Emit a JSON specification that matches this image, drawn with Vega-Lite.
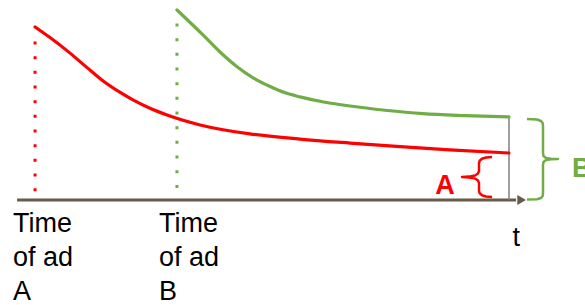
{
  "$schema": "https://vega.github.io/schema/vega-lite/v6.json",
  "width": 585,
  "height": 305,
  "autosize": {"type": "none"},
  "padding": 0,
  "background": "white",
  "config": {"view": {"stroke": null}},
  "datasets": {
    "curves": [
      {"ad": "A", "time": -0.2, "response": 90.6},
      {"ad": "A", "time": 3.6, "response": 83.9},
      {"ad": "A", "time": 7.2, "response": 76.9},
      {"ad": "A", "time": 10.8, "response": 69.3},
      {"ad": "A", "time": 14.2, "response": 62.3},
      {"ad": "A", "time": 17.8, "response": 56.3},
      {"ad": "A", "time": 20.5, "response": 52.4},
      {"ad": "A", "time": 24.1, "response": 48.0},
      {"ad": "A", "time": 27.7, "response": 44.5},
      {"ad": "A", "time": 34.7, "response": 39.3},
      {"ad": "A", "time": 45.2, "response": 34.6},
      {"ad": "A", "time": 55.8, "response": 31.9},
      {"ad": "A", "time": 66.4, "response": 29.8},
      {"ad": "A", "time": 77.0, "response": 27.9},
      {"ad": "A", "time": 87.5, "response": 26.2},
      {"ad": "A", "time": 100, "response": 24.6},
      {"ad": "B", "time": 29.8, "response": 99.5},
      {"ad": "B", "time": 35.3, "response": 86.4},
      {"ad": "B", "time": 38.9, "response": 77.5},
      {"ad": "B", "time": 42.5, "response": 69.8},
      {"ad": "B", "time": 45.9, "response": 64.0},
      {"ad": "B", "time": 49.5, "response": 59.4},
      {"ad": "B", "time": 52.7, "response": 56.1},
      {"ad": "B", "time": 55.8, "response": 54.0},
      {"ad": "B", "time": 61.1, "response": 51.2},
      {"ad": "B", "time": 66.4, "response": 49.2},
      {"ad": "B", "time": 73.8, "response": 47.0},
      {"ad": "B", "time": 81.8, "response": 45.2},
      {"ad": "B", "time": 90.7, "response": 44.2},
      {"ad": "B", "time": 100, "response": 43.5}
    ],
    "drops": [
      {"ad": "A", "time": -0.2, "top": 83.0, "bottom": 4.6},
      {"ad": "B", "time": 29.8, "top": 92.4, "bottom": 6.3}
    ],
    "braces": [
      {"brace": "A", "i": 1, "time": 96.41, "response": 22.51},
      {"brace": "A", "i": 2, "time": 95.14, "response": 22.25},
      {"brace": "A", "i": 3, "time": 94.29, "response": 21.57},
      {"brace": "A", "i": 4, "time": 93.8, "response": 20.52},
      {"brace": "A", "i": 5, "time": 93.66, "response": 19.37},
      {"brace": "A", "i": 6, "time": 93.66, "response": 15.18},
      {"brace": "A", "i": 7, "time": 93.45, "response": 13.87},
      {"brace": "A", "i": 8, "time": 92.81, "response": 12.83},
      {"brace": "A", "i": 9, "time": 91.54, "response": 12.25},
      {"brace": "A", "i": 10, "time": 90.06, "response": 12.04},
      {"brace": "A", "i": 11, "time": 91.54, "response": 11.83},
      {"brace": "A", "i": 12, "time": 92.81, "response": 11.26},
      {"brace": "A", "i": 13, "time": 93.45, "response": 10.21},
      {"brace": "A", "i": 14, "time": 93.66, "response": 8.9},
      {"brace": "A", "i": 15, "time": 93.66, "response": 4.71},
      {"brace": "A", "i": 16, "time": 93.8, "response": 3.56},
      {"brace": "A", "i": 17, "time": 94.29, "response": 2.51},
      {"brace": "A", "i": 18, "time": 95.14, "response": 1.83},
      {"brace": "A", "i": 19, "time": 96.41, "response": 1.57},
      {"brace": "B", "i": 1, "time": 103.81, "response": 42.41},
      {"brace": "B", "i": 2, "time": 105.92, "response": 42.15},
      {"brace": "B", "i": 3, "time": 106.77, "response": 41.36},
      {"brace": "B", "i": 4, "time": 107.12, "response": 40.31},
      {"brace": "B", "i": 5, "time": 107.19, "response": 38.74},
      {"brace": "B", "i": 6, "time": 107.19, "response": 24.61},
      {"brace": "B", "i": 7, "time": 107.29, "response": 23.04},
      {"brace": "B", "i": 8, "time": 107.82, "response": 21.99},
      {"brace": "B", "i": 9, "time": 108.88, "response": 21.57},
      {"brace": "B", "i": 10, "time": 110.36, "response": 21.47},
      {"brace": "B", "i": 11, "time": 108.88, "response": 21.36},
      {"brace": "B", "i": 12, "time": 107.82, "response": 20.94},
      {"brace": "B", "i": 13, "time": 107.29, "response": 19.9},
      {"brace": "B", "i": 14, "time": 107.19, "response": 18.32},
      {"brace": "B", "i": 15, "time": 107.19, "response": 3.66},
      {"brace": "B", "i": 16, "time": 107.12, "response": 2.09},
      {"brace": "B", "i": 17, "time": 106.77, "response": 1.05},
      {"brace": "B", "i": 18, "time": 105.92, "response": 0.37},
      {"brace": "B", "i": 19, "time": 103.81, "response": 0.26}
    ],
    "labels": [
      {"ad": "A", "time": -4.86, "response": -16.75, "label": ["Time", "of ad", "A"]},
      {"ad": "B", "time": 26.0, "response": -16.75, "label": ["Time", "of ad", "B"]},
      {"ad": "t", "time": 100.74, "response": -24.08, "label": ["t"]}
    ],
    "braceLabels": [
      {"ad": "A", "time": 84.4, "response": 3.3, "label": "A"},
      {"ad": "B", "time": 113.3, "response": 12.3, "label": "B"}
    ]
  },
  "encoding": {
    "x": {"field": "time", "type": "quantitative", "scale": {"domain": [-7.611, 116.07], "nice": false, "zero": false}, "axis": null},
    "y": {"field": "response", "type": "quantitative", "scale": {"domain": [-54.97, 104.71], "nice": false, "zero": false}, "axis": null}
  },
  "layer": [
    {
      "data": {"name": "drops"},
      "mark": {"type": "rule", "strokeWidth": 3, "strokeDash": [3, 11.67], "strokeCap": "butt"},
      "encoding": {
        "y": {"field": "top", "type": "quantitative"},
        "y2": {"field": "bottom"},
        "color": {"field": "ad", "type": "nominal", "scale": {"domain": ["A", "B"], "range": ["#ff0000", "#70ad47"]}, "legend": null}
      }
    },
    {
      "data": {"values": [{"start": -4.0, "end": 101.5, "response": 0}]},
      "mark": {"type": "rule", "strokeWidth": 3, "color": "#675a48", "strokeCap": "butt"},
      "encoding": {
        "x": {"field": "start", "type": "quantitative"},
        "x2": {"field": "end"}
      }
    },
    {
      "data": {"values": [{"time": 102.68, "response": 0}]},
      "mark": {"type": "point", "shape": "triangle-right", "filled": true, "size": 100, "color": "#675a48", "opacity": 1},
      "encoding": {}
    },
    {
      "data": {"values": [{"time": 100, "top": 43.5, "bottom": 0}]},
      "mark": {"type": "rule", "strokeWidth": 1.5, "color": "#7f7f7f"},
      "encoding": {
        "y": {"field": "top", "type": "quantitative"},
        "y2": {"field": "bottom"}
      }
    },
    {
      "data": {"name": "curves"},
      "mark": {"type": "line", "strokeWidth": 3.2, "interpolate": "monotone", "strokeCap": "round"},
      "encoding": {
        "color": {"field": "ad", "type": "nominal", "legend": null}
      }
    },
    {
      "data": {"name": "braces"},
      "mark": {"type": "line", "strokeWidth": 2.5, "strokeJoin": "round"},
      "encoding": {
        "order": {"field": "i", "type": "quantitative"},
        "color": {"field": "brace", "type": "nominal", "legend": null}
      }
    },
    {
      "data": {"name": "labels"},
      "mark": {"type": "text", "align": "left", "baseline": "alphabetic", "font": "Liberation Sans", "fontSize": 27, "lineHeight": 34, "color": "black"},
      "encoding": {"text": {"field": "label"}}
    },
    {
      "data": {"name": "braceLabels"},
      "mark": {"type": "text", "align": "left", "baseline": "alphabetic", "font": "Liberation Sans", "fontSize": 27, "fontWeight": "bold"},
      "encoding": {
        "text": {"field": "label"},
        "color": {"field": "ad", "type": "nominal", "legend": null}
      }
    }
  ]
}
